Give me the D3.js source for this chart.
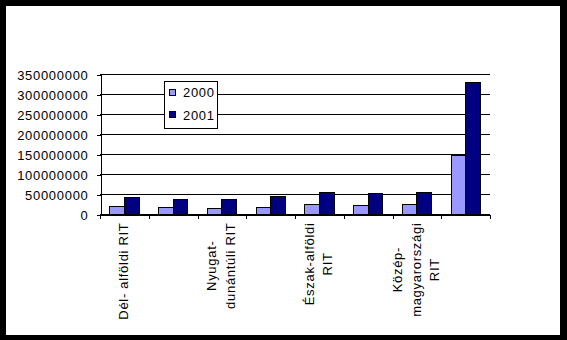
<!DOCTYPE html>
<html>
<head>
<meta charset="utf-8">
<script src="https://cdn.jsdelivr.net/npm/d3@7"></script>
<style>
  html, body { margin: 0; padding: 0; background: #000; }
  svg { display: block; }
  text { font-family: Arial, "Liberation Sans", sans-serif; font-size: 13px; letter-spacing: 0.7px; fill: #000; }
  rect, line, path { shape-rendering: crispEdges; }
</style>
</head>
<body>
<svg id="chart" width="567" height="340"></svg>
<script>
// ---- data ----
const categories = [
  "Dél- alföldi RIT", "", "Nyugat-\ndunántúli RIT", "", "Észak-alföldi\nRIT", "",
  "Közép-\nmagyarországi\nRIT", ""
];
const series = ["2000", "2001"];
const values2000 = [20000000, 17500000, 15000000, 17500000, 25000000, 22500000, 25000000, 147500000];
const values2001 = [42500000, 37500000, 37500000, 45000000, 55000000, 52500000, 55000000, 330000000];
const yTicks = [0, 50000000, 100000000, 150000000, 200000000, 250000000, 300000000, 350000000];
const colors = ["#9999FF", "#000080"];

(function () {
const svg = d3.select("#chart");
const W = 567, H = 340;

// frame
svg.append("rect").attr("x", 0).attr("y", 0).attr("width", W).attr("height", H).attr("fill", "#000");
svg.append("rect").attr("x", 6).attr("y", 6).attr("width", 554).attr("height", 329).attr("fill", "#fff");

const pLeft = 100, pRight = 490, pTop = 74.5, pBottom = 214.5;

const y = d3.scaleLinear().domain([0, 350000000]).range([pBottom, pTop]);
const idx = d3.range(categories.length);
const x = d3.scaleBand().domain(idx).range([pLeft, pRight]).paddingInner(0.4).paddingOuter(0.2);
const xs = d3.scaleBand().domain(series).range([0, x.bandwidth()]);
const xb = d3.scaleLinear().domain([0, categories.length]).range([pLeft, pRight]);

// gridlines
svg.append("g").selectAll("line").data(yTicks).join("line")
  .attr("x1", pLeft).attr("x2", pRight)
  .attr("y1", d => y(d)).attr("y2", d => y(d))
  .attr("stroke", "#000").attr("stroke-width", 1);

// y axis
const yAxis = svg.append("g").attr("transform", `translate(${pLeft + 0.5},0)`)
  .call(d3.axisLeft(y).tickValues(yTicks).tickFormat(d3.format("d")).tickSize(4).tickSizeOuter(0).tickPadding(8));
yAxis.select(".domain").attr("stroke", "#000");
yAxis.selectAll(".tick line").attr("stroke", "#000");
yAxis.selectAll(".tick text").attr("dy", "0.36em");
yAxis.attr("font-family", null).attr("font-size", null);

// bars
const data = [values2000, values2001];
series.forEach((s, si) => {
  svg.append("g").selectAll("rect").data(data[si]).join("rect")
    .attr("x", (d, i) => x(i) + xs(s))
    .attr("y", d => y(d))
    .attr("width", xs.bandwidth())
    .attr("height", d => y(0) - y(d))
    .attr("fill", colors[si])
    .attr("stroke", "#000").attr("stroke-width", 1);
});

// x axis
const xAxis = svg.append("g").attr("transform", `translate(0,${pBottom})`)
  .call(d3.axisBottom(xb).tickValues(d3.range(categories.length + 1)).tickFormat("").tickSize(4).tickSizeOuter(0));
xAxis.select(".domain").attr("stroke", "#000");
xAxis.selectAll(".tick line").attr("stroke", "#000");

// category labels (rotated)
const lineH = 18.5;
idx.forEach(i => {
  const label = categories[i];
  if (!label) return;
  const lines = label.split("\n");
  const c = x(i) + x.bandwidth() / 2;
  const g = svg.append("g");
  const texts = lines.map((ln, li) => {
    const bx = c + 3.7 + (li - (lines.length - 1) / 2) * lineH;
    return g.append("text").text(ln).attr("data-bx", bx);
  });
  const maxLen = d3.max(texts, t => t.node().getComputedTextLength());
  const yMid = 222.5 + maxLen / 2;
  texts.forEach(t => {
    const bx = +t.attr("data-bx");
    t.attr("text-anchor", "middle")
     .attr("transform", `translate(${bx},${yMid}) rotate(-90)`);
  });
});

// legend
const lg = svg.append("g");
lg.append("rect").attr("x", 164.5).attr("y", 81.5).attr("width", 53).attr("height", 47)
  .attr("fill", "#fff").attr("stroke", "#000");
series.forEach((s, si) => {
  lg.append("rect").attr("x", 169.5).attr("y", 89.5 + si * 22).attr("width", 6).attr("height", 6)
    .attr("fill", colors[si]).attr("stroke", "#000");
  lg.append("text").attr("x", 183).attr("y", 97 + si * 23).text(s);
});
})();
</script>
</body>
</html>
